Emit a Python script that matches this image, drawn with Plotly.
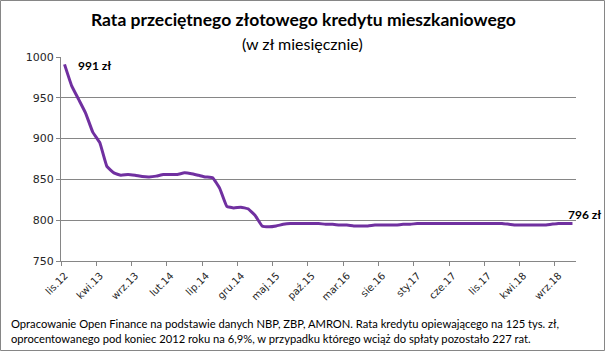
import plotly.graph_objects as go

# Monthly data: lis.12 (Nov 2012) .. lis.18 (Nov 2018)
rata = [991, 965, 948, 931, 908, 895, 866, 858, 855, 856,
        855, 853.5, 853, 854, 856, 856, 856, 858, 857, 855,
        853, 852, 839, 817, 815, 816, 814, 806, 793, 792,
        793, 795, 796, 796, 796, 796, 796, 795, 795, 794,
        794, 793, 793, 793, 794, 794, 794, 794, 795, 795,
        796, 796, 796, 796, 796, 796, 796, 796, 796, 796,
        796, 796, 796, 795, 794, 794, 794, 794, 794, 795,
        796, 796, 796]
tick_labels = ["lis.12", "kwi.13", "wrz.13", "lut.14", "lip.14", "gru.14", "maj.15",
               "paź.15", "mar.16", "sie.16", "sty.17", "cze.17", "lis.17", "kwi.18", "wrz.18"]
label_first = "991 zł"
label_last = "796 zł"
title = "Rata przeciętnego złotowego kredytu mieszkaniowego"
subtitle = "(w zł miesięcznie)"
footnote = ("Opracowanie Open Finance na podstawie danych NBP, ZBP, AMRON. Rata kredytu opiewającego na 125 tys. zł,<br>"
            "oprocentowanego pod koniec 2012 roku na 6,9%, w przypadku którego wciąż do spłaty pozostało 227 rat.")

idx = list(range(len(rata)))
W, H = 605, 351
L, R, T, B = 61, 29, 57, 90
pw, ph = W - L - R, H - T - B

def px(x):  # pixel x -> paper
    return (x - L) / pw

def py(y):  # pixel y -> paper
    return (H - B - y) / ph

grid = "#868686"
fig = go.Figure()
fig.add_trace(go.Scatter(x=idx, y=rata, mode="lines",
                         line=dict(color="#7030A0", width=3, shape="spline", smoothing=0.3),
                         hoverinfo="skip", showlegend=False))

fig.update_layout(
    width=W, height=H, autosize=False,
    margin=dict(l=L, r=R, t=T, b=B),
    paper_bgcolor="white", plot_bgcolor="white",
    xaxis=dict(range=[-0.5, len(rata) - 0.5], tickvals=[i * 5 - 0.5 for i in range(len(tick_labels))],
               ticktext=tick_labels, tickangle=-45, ticks="outside", ticklen=4, tickcolor=grid,
               ticklabelshift=4, showline=True, linecolor=grid, linewidth=1, showgrid=False, zeroline=False,
               tickfont=dict(family="DejaVu Sans", size=10, color="#262626")),
    yaxis=dict(range=[750, 1000], dtick=50, tick0=750, ticks="outside", ticklen=4, tickcolor=grid,
               showline=True, linecolor=grid, linewidth=1, showgrid=True, gridcolor=grid, gridwidth=1,
               zeroline=False, tickfont=dict(family="DejaVu Sans", size=11, color="#262626")),
    annotations=[
        dict(text="<b>" + title + "</b>", x=px(303), y=py(19), xref="paper", yref="paper",
             showarrow=False, xanchor="center", yanchor="middle",
             font=dict(family="Lato", size=17.5, color="black")),
        dict(text=subtitle, x=px(302), y=py(43), xref="paper", yref="paper",
             showarrow=False, xanchor="center", yanchor="middle",
             font=dict(family="Lato", size=16, color="black")),
        dict(text=footnote, x=px(9), y=py(331), xref="paper", yref="paper",
             showarrow=False, xanchor="left", yanchor="middle", align="left",
             font=dict(family="Lato", size=11.2, color="black")),
        dict(text="<b>" + label_first + "</b>", x=idx[0], y=rata[0], xref="x", yref="y",
             showarrow=False, xanchor="left", yanchor="middle", xshift=11, yshift=-1,
             font=dict(family="Lato", size=12, color="black")),
        dict(text="<b>" + label_last + "</b>", x=idx[-1], y=rata[-1], xref="x", yref="y",
             showarrow=False, xanchor="left", yanchor="middle", xshift=-6, yshift=9,
             font=dict(family="Lato", size=12, color="black")),
    ],
    shapes=[dict(type="rect", xref="paper", yref="paper",
                 x0=px(0.5), x1=px(W - 0.5), y0=py(H - 0.5), y1=py(0.5),
                 line=dict(color=grid, width=1), fillcolor="rgba(0,0,0,0)", layer="below")],
)

fig.write_html("out.html")
